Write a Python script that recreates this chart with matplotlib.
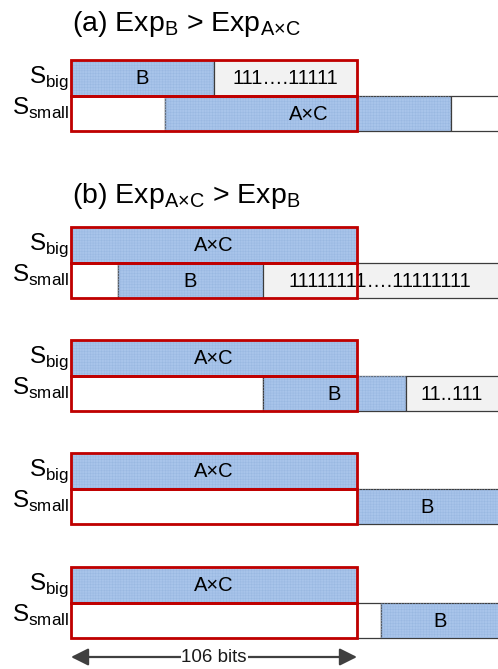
import matplotlib
matplotlib.use("Agg")
import matplotlib.pyplot as plt
from matplotlib.patches import Rectangle

plt.rcParams["font.family"] = ["Liberation Sans", "DejaVu Sans"]
plt.rcParams["mathtext.fontset"] = "custom"
plt.rcParams["mathtext.rm"] = "Liberation Sans"
plt.rcParams["hatch.linewidth"] = 0.3

# colours
BLUE = "#a8c4ea"
BLUE_DOT = "#97b6e0"
GREY = "#f2f2f2"
RED = "#c00000"
EDGE = "#3c3c3c"

# width of the mantissa window, in bits
WINDOW = 106

# row segments in bits: (start, end, label); "" = empty, B / A×C = blue, ones = grey
a_big = [(0, 53, "B"), (53, 106, "111….11111")]
a_small = [(0, 35, ""), (35, 141, "A×C"), (141, 170, "")]

b1_big = [(0, 106, "A×C")]
b1_small = [(0, 17.5, ""), (17.5, 71, "B"), (71, 170, "11111111….11111111")]

b2_big = [(0, 106, "A×C")]
b2_small = [(0, 71, ""), (71, 124, "B"), (124, 170, "11..111")]

b3_big = [(0, 106, "A×C")]
b3_small = [(0, 106, ""), (106, 170, "B")]

b4_big = [(0, 106, "A×C")]
b4_small = [(0, 106, ""), (106, 115, ""), (115, 170, "B")]

panels = [
    (a_big, a_small),
    (b1_big, b1_small),
    (b2_big, b2_small),
    (b3_big, b3_small),
    (b4_big, b4_small),
]
panel_tops = [60, 227, 340, 453, 567]  # pixel rows
ROW_H = 35.5

titles = [
    (r"(a) Exp$_{\mathregular{B}}$ > Exp$_{\mathregular{A×C}}$", 31),
    (r"(b) Exp$_{\mathregular{A×C}}$ > Exp$_{\mathregular{B}}$", 203),
]

# pixel -> bit scale: the 106-bit window spans x = 71..357 px
px_per_bit = (357 - 71) / WINDOW
x_left = -71 / px_per_bit
x_right = (498 - 71) / px_per_bit

fig = plt.figure(figsize=(4.98, 6.69), dpi=100)
ax = fig.add_axes([0, 0, 1, 1])
ax.set_xlim(x_left, x_right)
ax.set_ylim(669, 0)
ax.axis("off")


def kind_of(label):
    if label in ("B", "A×C"):
        return "blue"
    if label.startswith("1"):
        return "grey"
    return "white"


def draw_row(segs, top):
    for start, end, label in segs:
        kind = kind_of(label)
        face = {"blue": BLUE, "grey": GREY, "white": "white"}[kind]
        ax.add_patch(Rectangle((start, top), end - start, ROW_H,
                               facecolor=face, edgecolor=EDGE, lw=0.9, zorder=1))
        if kind == "blue":
            ax.add_patch(Rectangle((start, top), end - start, ROW_H, fill=False,
                                   hatch="++++++", edgecolor=BLUE_DOT, lw=0, zorder=1.5))
        if label:
            cx = (start + min(end, x_right)) / 2
            ax.text(cx, top + ROW_H / 2 + 1, label, fontsize=14.5,
                    ha="center", va="center", zorder=3)


for (big, small), top in zip(panels, panel_tops):
    draw_row(big, top)
    draw_row(small, top + ROW_H)
    # red window boxes
    for y0 in (top, top + ROW_H):
        ax.add_patch(Rectangle((0, y0), WINDOW, ROW_H, fill=False,
                               edgecolor=RED, lw=2, zorder=4))
    ax.text(-0.8, top + 23, r"S$_{\mathregular{big}}$", fontsize=17.5,
            ha="right", va="baseline")
    ax.text(-0.8, top + 55, r"S$_{\mathregular{small}}$", fontsize=17.5,
            ha="right", va="baseline")

for text, y in titles:
    ax.text(0.5, y, text, fontsize=20.5, ha="left", va="baseline")

# 106 bits arrow
arrow_y = 657
ax.annotate("", xy=(0, arrow_y), xytext=(WINDOW, arrow_y),
            arrowprops=dict(arrowstyle="<|-|>,head_length=0.7,head_width=0.35",
                            color="#404040", lw=1.6, mutation_scale=15,
                            shrinkA=0, shrinkB=0))
ax.text(WINDOW / 2, arrow_y, "106 bits", fontsize=13.5, ha="center", va="center",
        color="#1a1a1a", bbox=dict(facecolor="white", edgecolor="none", pad=0.5))

fig.savefig("out.png", dpi=100)
